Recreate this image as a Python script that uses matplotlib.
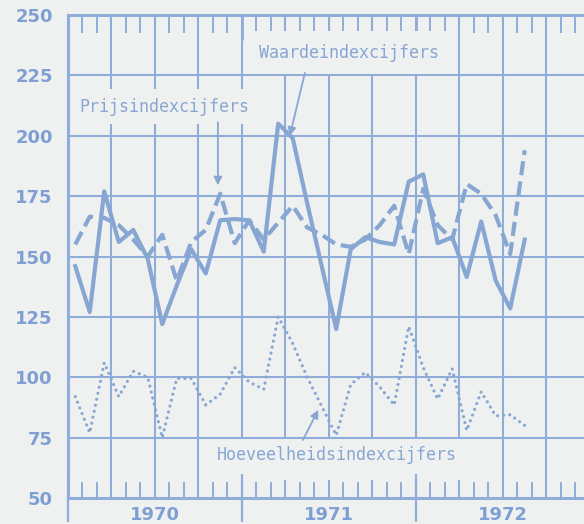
import matplotlib
matplotlib.use("Agg")
import matplotlib.pyplot as plt
import matplotlib.transforms as mtransforms
from matplotlib.patches import Rectangle
import numpy as np

# ---- data: monthly index numbers, Jan 1970 .. Aug 1972 ----
month_index = list(range(32))  # 0 = Jan 1970

waarde = [146, 127, 177, 156, 161, 149, 122, 138, 153, 143, 165, 165.5,
          165, 152, 205, 199, 172, 146, 120, 153, 158, 156, 155, 181,
          184, 155.5, 158, 141.5, 164.5, 140, 128.5, 157]

prijs = [155, 166.5, 166, 163, 157, 150, 159, 140, 156, 161, 176, 155.5,
         165, 157, 164, 171, 162, 159, 155, 154, 157, 163, 171, 151,
         178, 163, 157, 180, 176, 167, 151, 194]

hoeveel = [92, 77, 106, 92, 102.5, 100, 75, 99.5, 99.5, 88.5, 93, 104,
           98, 95, 125, 114, 100, 88, 76, 97, 102, 96, 88.5, 121,
           104, 91, 103.5, 78, 94, 84, 84.5, 80]

years = ["1970", "1971", "1972"]
y_ticks = [50, 75, 100, 125, 150, 175, 200, 225, 250]

labels = {
    "waarde": "Waardeindexcijfers",
    "prijs": "Prijsindexcijfers",
    "hoeveel": "Hoeveelheidsindexcijfers",
}

# ---- style ----
BG = "#eff1f1"
BLUE = "#87a6d2"
GRID = "#8fadd8"
TXT = "#7f9fd2"

fig = plt.figure(figsize=(5.84, 5.24), dpi=100, facecolor=BG)
ax = fig.add_axes([68 / 584, 26 / 524, 516 / 584, 483 / 524], facecolor=BG)

x = np.array(month_index) + 0.5

ax.set_xlim(0, 35.59)
ax.set_ylim(50, 250)

# grid
for q in range(3, 36, 3):
    ax.axvline(q, color=GRID, lw=1.5, zorder=1)
for yv in y_ticks[1:-1]:
    ax.axhline(yv, color=GRID, lw=1.5, zorder=1.6)

# series
ax.plot(x, waarde, color=BLUE, lw=3.0, zorder=4)
ax.plot(x, prijs, color=BLUE, lw=3.0, linestyle=(0, (3.4, 1.5)), zorder=4)
ax.plot(x, hoeveel, color=BLUE, lw=2.3, linestyle=(0, (0.01, 1.9)),
        dash_capstyle="round", zorder=4)

# spines
for s in ["left", "bottom", "top"]:
    ax.spines[s].set_color(GRID)
    ax.spines[s].set_linewidth(2.2)
ax.spines["right"].set_visible(False)

# y ticks
ax.set_yticks(y_ticks)
ax.set_yticklabels([str(v) for v in y_ticks])
ax.tick_params(axis="y", length=0, pad=11, labelsize=13, labelcolor=TXT)
for lab in ax.get_yticklabels():
    lab.set_fontweight("bold")
    lab.set_family("DejaVu Sans")

# x ticks (bottom)
ax.set_xticks([0, 12, 24])
ax.set_xticklabels([])
ax.set_xticks(range(0, 36), minor=True)
ax.tick_params(axis="x", which="major", direction="inout", length=34,
               width=1.6, color=GRID, bottom=True, top=False)
ax.tick_params(axis="x", which="minor", direction="in", length=11.5,
               width=1.4, color=GRID, bottom=True, top=False)

# x ticks (top)
sec = ax.secondary_xaxis("top")
sec.set_xticks([12, 24])
sec.set_xticklabels([])
sec.set_xticks(range(0, 36), minor=True)
sec.tick_params(which="major", direction="in", length=18, width=2.0, color=GRID)
sec.tick_params(which="minor", direction="in", length=13, width=1.4, color=GRID)
sec.spines["top"].set_visible(False)

# year labels
trans = mtransforms.blended_transform_factory(ax.transData, ax.transAxes)
for i, yr in enumerate(years):
    ax.text(12 * i + 6, -0.036, yr, transform=trans, ha="center", va="center",
            fontsize=13, fontweight="bold", color=TXT, family="DejaVu Sans")

# annotations
ax.text(0.8, 212, labels["prijs"], family="DejaVu Sans Mono", fontsize=12,
        color=BLUE, ha="left", va="center",
        bbox=dict(facecolor=BG, edgecolor="none", pad=6), zorder=3)
ax.text(13.2, 234.4, labels["waarde"], family="DejaVu Sans Mono", fontsize=12,
        color=BLUE, ha="left", va="center",
        bbox=dict(facecolor=BG, edgecolor="none", pad=9), zorder=3)
ax.add_patch(Rectangle((10.1, 57.5), 17.4, 16.8, facecolor=BG, edgecolor="none",
                       zorder=1.5))
ax.text(10.3, 67.6, labels["hoeveel"], family="DejaVu Sans Mono", fontsize=12,
        color=BLUE, ha="left", va="center", zorder=3)

arrow = dict(arrowstyle="-|>", color=BLUE, lw=1.3, mutation_scale=12,
             shrinkA=0, shrinkB=0)
ax.annotate("", xy=(10.34, 179.5), xytext=(10.34, 205.5), arrowprops=arrow, zorder=5)
ax.annotate("", xy=(15.3, 200), xytext=(16.34, 226), arrowprops=arrow, zorder=5)
ax.annotate("", xy=(17.26, 86.5), xytext=(16.2, 74), arrowprops=arrow, zorder=5)

fig.savefig("out.png", dpi=100, facecolor=BG)
